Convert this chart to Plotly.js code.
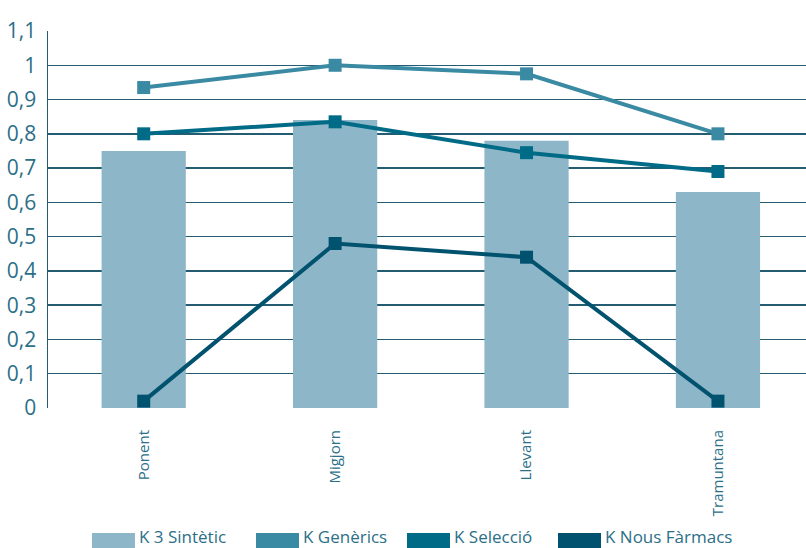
<!DOCTYPE html>
<html>
<head>
<meta charset="utf-8">
<script src="https://cdn.plot.ly/plotly-3.0.1.min.js"></script>
<style>html,body{margin:0;padding:0;background:#fff;}#chart{width:806px;height:548px;}</style>
</head>
<body>
<div id="chart"></div>
<script>
const categories = ["Ponent", "Migjorn", "Llevant", "Tramuntana"];
const seriesNames = ["K 3 Sintètic", "K Genèrics", "K Selecció", "K Nous Fàrmacs"];
const k3Sintetic = [0.75, 0.84, 0.78, 0.63];
const kGenerics = [0.935, 1.0, 0.975, 0.80];
const kSeleccio = [0.80, 0.835, 0.745, 0.69];
const kNousFarmacs = [0.02, 0.48, 0.44, 0.02];
const yTickVals = [0, 0.1, 0.2, 0.3, 0.4, 0.5, 0.6, 0.7, 0.8, 0.9, 1, 1.1];
const yTickText = ["0", "0,1", "0,2", "0,3", "0,4", "0,5", "0,6", "0,7", "0,8", "0,9", "1", "1,1"];

const colors = ["#8db6c8", "#3a8aa3", "#006b87", "#00526f"];
const font = "Open Sans, Noto Sans, sans-serif";
const textColor = "#2b6f88";

function lineTrace(name, y, color) {
  return {
    type: "scatter", mode: "lines+markers", name: name,
    x: categories, y: y,
    line: {color: color, width: 4},
    marker: {symbol: "square", size: 13, color: color},
    showlegend: false, hoverinfo: "skip"
  };
}

const data = [
  {type: "bar", name: seriesNames[0], x: categories, y: k3Sintetic,
   width: 0.44, marker: {color: colors[0]}, showlegend: false},
  lineTrace(seriesNames[1], kGenerics, colors[1]),
  lineTrace(seriesNames[2], kSeleccio, colors[2]),
  lineTrace(seriesNames[3], kNousFarmacs, colors[3])
];

// Legend drawn as swatches + text below the plot
const legendX = [92, 256, 407, 558];
const shapes = [];
const annotations = [];
seriesNames.forEach((n, i) => {
  shapes.push({type: "rect", xref: "paper", yref: "paper",
    x0: (legendX[i] - 48) / 758, x1: (legendX[i] + 43 - 48) / 758,
    y0: -(533 - 408) / 377, y1: -(548 - 408) / 377,
    fillcolor: colors[i], line: {width: 0}});
  annotations.push({xref: "paper", yref: "paper",
    x: (legendX[i] + 46 - 48) / 758, y: -(536.5 - 408) / 377,
    xanchor: "left", yanchor: "middle", showarrow: false, borderpad: 0,
    text: n, font: {family: font, size: 17, color: textColor}});
});

const layout = {
  width: 806, height: 548,
  margin: {l: 48, r: 0, t: 31, b: 140, pad: 0},
  paper_bgcolor: "#fff", plot_bgcolor: "#fff",
  showlegend: false,
  xaxis: {
    type: "category", range: [-0.5, 3.46],
    tickangle: -90, tickfont: {family: font, size: 15, color: textColor},
    showgrid: false, zeroline: false, showline: false, ticks: "",
    ticklabelstandoff: 18
  },
  yaxis: {
    range: [0, 1.1], tickvals: yTickVals, ticktext: yTickText,
    tickfont: {family: font, size: 21, color: textColor},
    showgrid: true, gridcolor: "#245d71", gridwidth: 1.5,
    zeroline: false, showline: true, linecolor: "#245d71", linewidth: 1.5,
    ticks: "", ticklabelstandoff: 6
  },
  shapes: shapes,
  annotations: annotations
};

Plotly.newPlot("chart", data, layout, {displayModeBar: false, staticPlot: true});
</script>
</body>
</html>
